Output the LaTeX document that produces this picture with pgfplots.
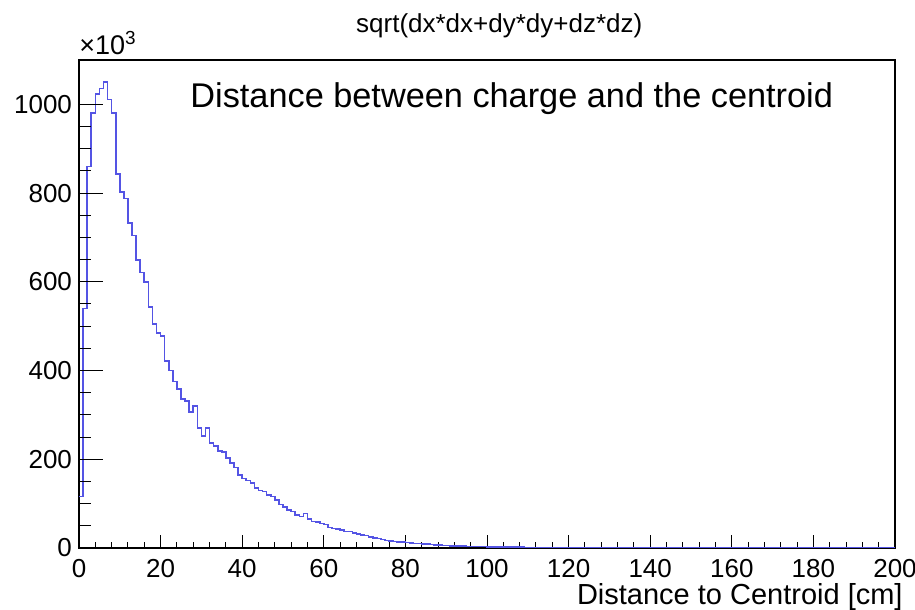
\documentclass[border=0pt]{standalone}
\usepackage{pgfplots}
\pgfplotsset{compat=1.18}
\usepackage{fontspec}
\setmainfont{Liberation Sans}
\definecolor{histblue}{RGB}{84,84,228}
\pgfplotsset{
  rootframe/.style={
    at={(0,0)}, anchor=south west,
    scale only axis, width=408pt, height=244pt,
    xmin=0, xmax=200, ymin=0, ymax=1100,
    tick pos=left, tick align=inside,
    scaled ticks=false,
    /pgf/number format/assume math mode=true,
    /pgf/number format/1000 sep={},
    tick label style={font=\fontsize{13}{15}\selectfont},
    every tick/.style={black, line width=0.5pt},
  }
}
\begin{document}
\begin{tikzpicture}
\path[use as bounding box] (-39.5pt,-31pt) rectangle (418pt,274pt);
% main axis: frame, x ticks, histogram
\begin{axis}[
  rootframe,
  xtick={0,20,...,200}, minor x tick num=4,
  ytick=\empty,
  major tick length=6.3pt, minor tick length=3pt,
  axis line style={black, line width=0.6pt},
  xticklabel style={yshift=-2pt},
  xlabel={Distance to Centroid [cm]},
  xlabel style={at={(rel axis cs:1,0)}, anchor=base east, inner sep=0pt, xshift=4pt, yshift=-28.3pt, font=\fontsize{14.5}{17}\selectfont},
  title={sqrt(dx*dx+dy*dy+dz*dz)},
  title style={at={(rel axis cs:0.515,1)}, anchor=base, inner sep=0pt, yshift=7.5pt, font=\fontsize{13}{15}\selectfont},
]
\addplot[const plot, histblue, line width=0.8pt] coordinates {
(0,116) (1,540) (2,860) (3,981) (4,1023) (5,1036) (6,1051) (7,1011) (8,981) (9,843)
(10,803) (11,788) (12,733) (13,704) (14,649) (15,621) (16,600) (17,543) (18,505) (19,485)
(20,478) (21,422) (22,400) (23,375) (24,358) (25,336) (26,332) (27,307) (28,320) (29,270)
(30,252) (31,270) (32,236) (33,230) (34,219) (35,217) (36,203) (37,191) (38,181) (39,165)
(40,157) (41,152) (42,146) (43,135) (44,130) (45,127) (46,119) (47,116) (48,108) (49,98)
(50,93) (51,86) (52,82) (53,74) (54,71) (55,78) (56,65) (57,60) (58,59) (59,55)
(60,53) (61,46) (62,44) (63,43) (64,41) (65,37) (66,37) (67,34) (68,32) (69,29)
(70,28) (71,25) (72,23) (73,21) (74,19) (75,17) (76,16) (77,15) (78,14) (79,13)
(80,12) (81,11) (82,10.5) (83,10) (84,9) (85,8.5) (86,8) (87,7) (88,7) (89,6)
(90,5.5) (91,5) (92,5) (93,4.5) (94,4) (95,3.5) (96,3.5) (97,3) (98,3) (99,3)
(100,2.5) (101,2.5) (102,2.5) (103,2) (104,2) (105,2) (106,2) (107,1.8) (108,1.6) (109,1.5)
(110,1.4) (111,1.2) (112,1.1) (113,1) (114,1) (115,0.9) (116,0.8) (117,0.7) (118,0.6) (119,0.5)
(120,0.5) (121,0.4) (122,0.4) (123,0.3) (124,0.3) (125,0.2) (126,0.2) (127,0.1) (128,0.1) (129,0)
(200,0)
};
\end{axis}
% overlay axis: y ticks (longer, as ROOT draws them)
\begin{axis}[
  rootframe,
  xtick=\empty,
  ytick={0,200,...,1000}, minor y tick num=3,
  major tick length=12pt, minor tick length=6pt,
  axis line style={draw=none},
]
\end{axis}
\node[anchor=base west, inner sep=0pt, font=\fontsize{13.5}{15}\selectfont] at (0pt,246.5pt) {×10\textsuperscript{3}};
\node[anchor=base west, inner sep=0pt, font=\fontsize{17.15}{20}\selectfont] at (55.5pt,220pt) {Distance between charge and the centroid};
\end{tikzpicture}
\end{document}
